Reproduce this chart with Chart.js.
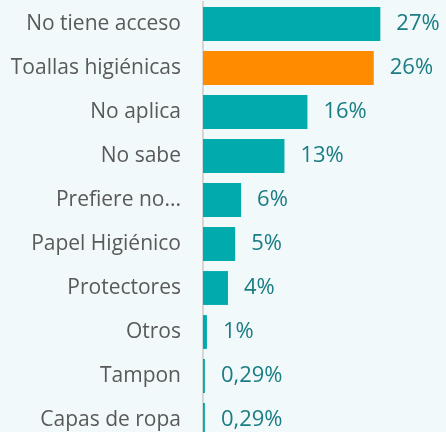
<!DOCTYPE html>
<html>
<head>
<meta charset="utf-8">
<script src="https://cdn.jsdelivr.net/npm/chart.js@4/dist/chart.umd.min.js"></script>
<style>
  html, body { margin: 0; padding: 0; background: #f1f9fb; overflow: hidden; }
  canvas { display: block; }
</style>
</head>
<body>
<canvas id="grafico" width="446" height="444"></canvas>
<script>
var categorias = ['No tiene acceso', 'Toallas higiénicas', 'No aplica', 'No sabe', 'Prefiere no...',
  'Papel Higiénico', 'Protectores', 'Otros', 'Tampon', 'Capas de ropa']
var valores = [27, 26, 15.9, 12.4, 5.8, 4.9, 3.8, 0.6, 0.29, 0.29]
var etiquetas = ['27%', '26%', '16%', '13%', '6%', '5%', '4%', '1%', '0,29%', '0,29%']

var colores = valores.map(function(v, i) { return i == 1 ? '#ff8c00' : '#00aaad' })

// dibuja el porcentaje al final de cada barra
var etiquetasBarras = {
  id: 'etiquetasBarras',
  afterDatasetsDraw: function(chart) {
    var ctx = chart.ctx
    var meta = chart.getDatasetMeta(0)
    ctx.save()
    ctx.font = '22px "Open Sans"'
    ctx.fillStyle = '#1a7d83'
    ctx.textBaseline = 'middle'
    ctx.textAlign = 'left'
    meta.data.forEach(function(bar, i) {
      ctx.fillText(etiquetas[i], bar.x + 16, bar.y)
    })
    ctx.restore()
  }
}

const ctx = document.getElementById('grafico')

new Chart(ctx, {
  type: 'bar',
  data: {
    labels: categorias,
    datasets: [{
      data: valores,
      backgroundColor: colores,
      categoryPercentage: 1,
      barPercentage: 0.77
    }]
  },
  options: {
    indexAxis: 'y',
    responsive: false,
    animation: false,
    layout: { padding: { top: 2, bottom: 2, left: 0, right: 0 } },
    plugins: { legend: { display: false }, tooltip: { enabled: false } },
    scales: {
      x: { display: false, min: 0, max: 37 },
      y: {
        afterFit: function(s) {
          s.width = 203
          s.paddingTop = 0
          s.paddingBottom = 0
        },
        grid: { display: false, drawTicks: false },
        border: { display: true, color: '#d6d6d6', width: 2 },
        ticks: {
          padding: 22,
          color: '#595959',
          font: { family: 'Open Sans', size: 21 }
        }
      }
    }
  },
  plugins: [etiquetasBarras]
})
</script>
</body>
</html>
